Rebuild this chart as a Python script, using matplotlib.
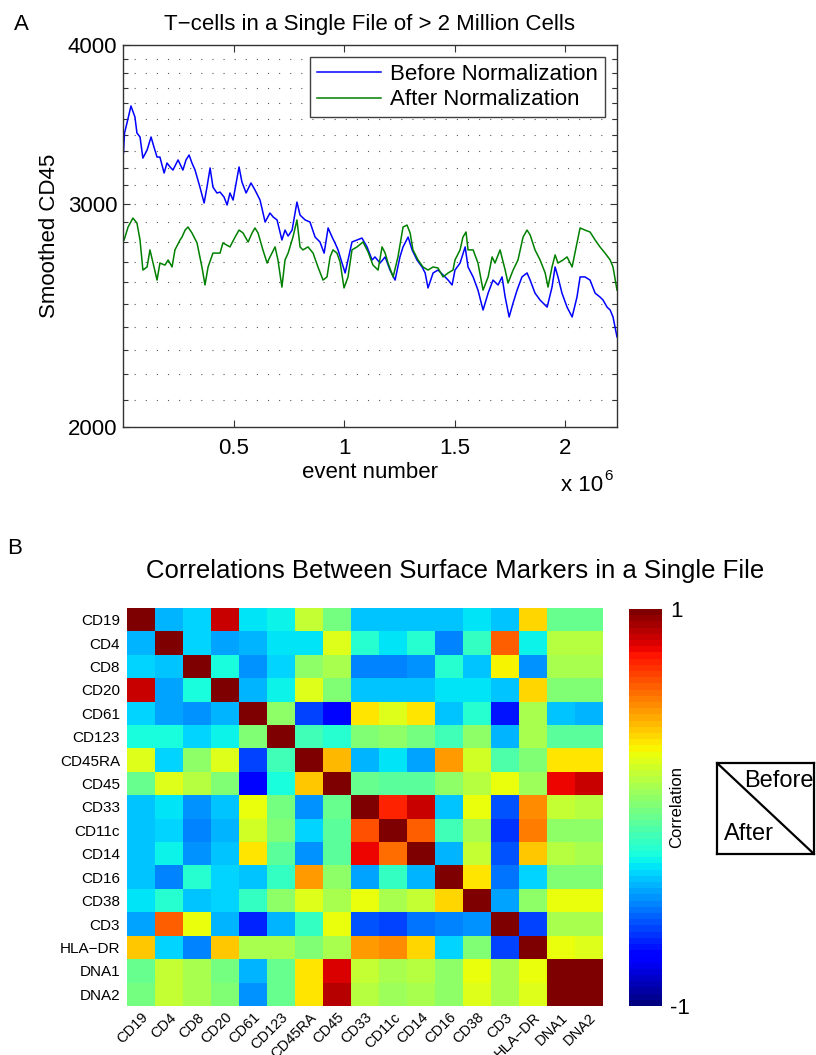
import matplotlib
matplotlib.use("Agg")
import matplotlib.pyplot as plt
import numpy as np
from matplotlib.ticker import FixedLocator, NullFormatter

plt.rcParams['font.family'] = ['Liberation Sans', 'DejaVu Sans']

# ---------------- Panel A data (event number in millions, smoothed CD45) -------------
before_events = [0.002,0.007,0.018,0.036,0.054,0.063,0.077,0.090,0.109,0.127,
                 0.140,0.154,0.167,0.186,0.199,0.213,0.226,0.249,0.271,0.285,
                 0.299,0.312,0.326,0.348,0.367,0.380,0.394,0.407,0.425,0.439,
                 0.457,0.471,0.484,0.498,0.525,0.538,0.557,0.579,0.597,0.620,
                 0.643,0.665,0.679,0.697,0.719,0.733,0.747,0.765,0.787,0.801,
                 0.824,0.846,0.869,0.891,0.910,0.928,0.946,0.959,0.973,0.991,
                 1.005,1.018,1.036,1.059,1.081,1.104,1.127,1.140,1.163,1.186,
                 1.208,1.231,1.253,1.267,1.290,1.308,1.330,1.353,1.367,1.380,
                 1.403,1.425,1.457,1.471,1.489,1.502,1.525,1.548,1.561,1.584,
                 1.606,1.629,1.652,1.674,1.697,1.715,1.729,1.747,1.765,1.783,
                 1.805,1.828,1.842,1.864,1.887,1.919,1.941,1.955,1.968,1.986,
                 2.009,2.032,2.054,2.068,2.090,2.113,2.136,2.158,2.172,2.190,
                 2.204,2.217,2.235]
before_cd45 = [3288,3410,3472,3581,3510,3410,3385,3258,3306,3385,
               3324,3264,3264,3171,3229,3206,3188,3247,3188,3247,
               3276,3229,3188,3091,3003,3091,3200,3091,3058,3063,
               3036,2992,3058,3019,3206,3120,3058,3114,3075,3019,
               2901,2949,2928,2912,2808,2859,2828,2859,3008,2938,
               2912,2901,2823,2798,2742,2870,2823,2793,2758,2693,
               2645,2708,2798,2808,2818,2773,2708,2723,2693,2723,
               2659,2611,2723,2773,2823,2758,2708,2674,2645,2574,
               2645,2659,2626,2611,2588,2659,2693,2773,2674,2626,
               2564,2473,2550,2611,2588,2626,2532,2442,2505,2564,
               2626,2645,2611,2550,2518,2486,2578,2674,2626,2550,
               2486,2442,2532,2626,2626,2611,2550,2532,2518,2486,
               2473,2442,2355]

after_events = [0.005,0.023,0.045,0.063,0.077,0.090,0.109,0.122,0.136,0.154,
                0.167,0.190,0.204,0.222,0.235,0.258,0.267,0.281,0.294,0.312,
                0.335,0.357,0.371,0.385,0.407,0.439,0.452,0.484,0.507,0.525,
                0.543,0.566,0.584,0.597,0.611,0.633,0.652,0.665,0.688,0.701,
                0.719,0.733,0.747,0.769,0.787,0.801,0.814,0.837,0.860,0.882,
                0.905,0.923,0.937,0.950,0.968,0.982,1.000,1.018,1.036,1.059,
                1.086,1.109,1.131,1.154,1.172,1.186,1.199,1.222,1.244,1.267,
                1.285,1.299,1.312,1.335,1.357,1.380,1.403,1.425,1.448,1.471,
                1.493,1.502,1.525,1.538,1.552,1.561,1.584,1.606,1.629,1.652,
                1.670,1.683,1.706,1.729,1.742,1.765,1.787,1.810,1.828,1.842,
                1.864,1.887,1.910,1.923,1.941,1.955,1.968,1.991,2.009,2.032,
                2.054,2.068,2.090,2.113,2.136,2.158,2.181,2.204,2.217,2.235]
after_cd45 = [2808,2875,2922,2896,2808,2659,2674,2758,2693,2611,
              2693,2683,2708,2674,2758,2808,2823,2859,2875,2844,
              2793,2674,2588,2674,2742,2742,2793,2773,2823,2859,
              2844,2798,2844,2870,2844,2758,2693,2723,2773,2708,
              2578,2708,2742,2823,2912,2773,2758,2773,2742,2674,
              2611,2626,2723,2758,2742,2698,2574,2626,2758,2773,
              2798,2747,2683,2659,2773,2742,2693,2626,2723,2875,
              2885,2844,2758,2708,2674,2659,2674,2669,2626,2645,
              2659,2708,2758,2823,2849,2758,2758,2693,2564,2626,
              2723,2693,2758,2659,2597,2659,2708,2823,2859,2834,
              2758,2708,2645,2578,2674,2733,2693,2708,2723,2674,
              2793,2870,2859,2849,2808,2773,2742,2708,2674,2564]

y_major = [2000, 3000, 4000]
y_major_labels = ['2000', '3000', '4000']
x_ticks = [0.5, 1, 1.5, 2]
x_tick_labels = ['0.5', '1', '1.5', '2']

# ---------------- Panel B data -------------
markers = ['CD19', 'CD4', 'CD8', 'CD20', 'CD61', 'CD123', 'CD45RA', 'CD45', 'CD33',
           'CD11c', 'CD14', 'CD16', 'CD38', 'CD3', 'HLA\u2212DR', 'DNA1', 'DNA2']
corr_CD19 = [1.00,-0.38,-0.32,0.85,-0.30,-0.27,0.17,-0.03,-0.35,-0.35,-0.35,-0.35,-0.30,-0.37,0.37,-0.05,-0.05]
corr_CD4 = [-0.40,1.00,-0.32,-0.42,-0.40,-0.30,-0.31,0.23,-0.20,-0.30,-0.20,-0.48,-0.18,0.60,-0.28,0.15,0.15]
corr_CD8 = [-0.32,-0.35,1.00,-0.22,-0.44,-0.33,0.05,0.12,-0.47,-0.47,-0.45,-0.20,-0.35,0.30,-0.45,0.12,0.12]
corr_CD20 = [0.85,-0.41,-0.25,1.00,-0.40,-0.27,0.23,0.02,-0.35,-0.37,-0.35,-0.31,-0.31,-0.35,0.37,0.00,0.00]
corr_CD61 = [-0.32,-0.42,-0.45,-0.40,1.00,0.05,-0.62,-0.75,0.32,0.23,0.32,-0.37,-0.20,-0.70,0.10,-0.37,-0.40]
corr_CD123 = [-0.25,-0.25,-0.32,-0.27,0.02,1.00,-0.15,-0.20,0.00,0.05,-0.02,-0.15,0.05,-0.40,0.10,-0.08,-0.08]
corr_CD45RA = [0.23,-0.32,0.05,0.23,-0.60,-0.15,1.00,0.42,-0.40,-0.30,-0.42,0.47,0.20,-0.12,0.02,0.32,0.32]
corr_CD45 = [-0.05,0.23,0.15,0.00,-0.75,-0.25,0.40,1.00,-0.05,-0.08,-0.08,0.05,0.15,0.28,0.07,0.80,0.85]
corr_CD33 = [-0.35,-0.30,-0.45,-0.35,0.25,-0.02,-0.45,-0.05,1.00,0.72,0.85,-0.37,0.25,-0.57,0.50,0.17,0.15]
corr_CD11c = [-0.35,-0.32,-0.47,-0.40,0.20,0.02,-0.33,-0.08,0.65,1.00,0.60,-0.15,0.12,-0.63,0.55,0.05,0.05]
corr_CD14 = [-0.35,-0.28,-0.45,-0.37,0.32,-0.08,-0.45,-0.08,0.80,0.57,1.00,-0.40,0.17,-0.57,0.40,0.15,0.10]
corr_CD16 = [-0.35,-0.47,-0.20,-0.32,-0.37,-0.18,0.47,0.05,-0.42,-0.18,-0.40,1.00,0.32,-0.52,-0.32,0.00,0.00]
corr_CD38 = [-0.30,-0.20,-0.35,-0.32,-0.18,0.05,0.23,0.12,0.25,0.12,0.17,0.35,1.00,-0.42,0.05,0.25,0.25]
corr_CD3 = [-0.42,0.62,0.28,-0.40,-0.68,-0.40,-0.18,0.28,-0.57,-0.62,-0.52,-0.50,-0.45,1.00,-0.62,0.10,0.12]
corr_HLADR = [0.38,-0.32,-0.47,0.38,0.10,0.10,0.02,0.10,0.47,0.52,0.35,-0.32,0.00,-0.62,1.00,0.25,0.23]
corr_DNA1 = [-0.05,0.17,0.12,-0.02,-0.40,-0.05,0.32,0.82,0.17,0.10,0.15,0.05,0.25,0.10,0.25,1.00,0.97]
corr_DNA2 = [-0.02,0.17,0.12,0.00,-0.45,-0.05,0.32,0.90,0.15,0.07,0.12,0.05,0.23,0.12,0.23,0.97,1.00]

corr = np.array([corr_CD19, corr_CD4, corr_CD8, corr_CD20, corr_CD61, corr_CD123,
                 corr_CD45RA, corr_CD45, corr_CD33, corr_CD11c, corr_CD14, corr_CD16,
                 corr_CD38, corr_CD3, corr_HLADR, corr_DNA1, corr_DNA2])

W, H = 816, 1055
fig = plt.figure(figsize=(W / 100, H / 100), dpi=100)
fig.patch.set_facecolor('white')

def fx(px):
    return px / W

def fy(py):
    return 1 - py / H

# ---------------- Panel A -------------
axA = fig.add_axes([fx(123), fy(427), fx(617) - fx(123), fy(45) - fy(427)])
axA.plot(before_events, before_cd45, color=(0, 0, 1), lw=1.1, label='Before Normalization')
axA.plot(after_events, after_cd45, color=(0, 0.5, 0), lw=1.1, label='After Normalization')
axA.set_yscale('log')
axA.set_ylim(2000, 4000)
axA.set_xlim(0.0, 2.235)
axA.yaxis.set_major_locator(FixedLocator(y_major))
axA.set_yticklabels(y_major_labels)
axA.yaxis.set_minor_locator(FixedLocator(list(range(2100, 4000, 100))))
axA.yaxis.set_minor_formatter(NullFormatter())
axA.set_xticks(x_ticks)
axA.set_xticklabels(x_tick_labels)
axA.xaxis.set_minor_locator(FixedLocator([]))
axA.yaxis.grid(True, which='both', linestyle=(0, (1, 9)), color='0.35', lw=0.8)
axA.tick_params(axis='both', which='major', direction='in', length=5, width=0.8,
                top=True, right=True, labelsize=16, color='0.2')
axA.tick_params(axis='y', which='minor', direction='in', length=3.5, width=0.8,
                left=True, right=True, color='0.2')
axA.tick_params(axis='x', which='major', pad=8)
axA.tick_params(axis='y', which='major', pad=4)
for s in axA.spines.values():
    s.set_linewidth(1.0)
    s.set_color('0.2')
axA.set_title('T\u2212cells in a Single File of > 2 Million Cells', fontsize=16, pad=11)
axA.set_ylabel('Smoothed CD45', fontsize=16, labelpad=6)
axA.set_xlabel('event number', fontsize=16, labelpad=2)
leg = axA.legend(loc='upper right', fontsize=16, handlelength=2.9, frameon=True,
                 fancybox=False, borderpad=0.3, labelspacing=0.2, handletextpad=0.4,
                 borderaxespad=0.55)
leg.get_frame().set_edgecolor('0.25')
leg.get_frame().set_linewidth(1.0)
leg.get_frame().set_alpha(1)
fig.text(fx(603), fy(491), 'x 10', fontsize=16, ha='right', va='baseline')
fig.text(fx(604), fy(480), '6', fontsize=11, ha='left', va='baseline')

fig.text(fx(21), fy(24), 'A', fontsize=16, ha='center', va='center')
fig.text(fx(15), fy(548), 'B', fontsize=16, ha='center', va='center')

# ---------------- Panel B -------------
fig.text(fx(455), fy(571), 'Correlations Between Surface Markers in a Single File',
         fontsize=18.5, ha='center', va='center')
axB = fig.add_axes([fx(127), fy(1006), fx(603) - fx(127), fy(608) - fy(1006)])
cmap = plt.get_cmap('jet', 64)
im = axB.imshow(corr, cmap=cmap, vmin=-1, vmax=1, aspect='auto', interpolation='nearest')
n = len(markers)
axB.set_xticks(range(n))
axB.set_yticks(range(n))
axB.set_yticklabels(markers, fontsize=11)
axB.set_xticklabels(markers, fontsize=10.5, rotation=45, ha='right', va='top',
                    rotation_mode='anchor')
axB.tick_params(axis='y', length=0, pad=5)
axB.tick_params(axis='x', length=0, pad=3)
for s in axB.spines.values():
    s.set_visible(False)

cax = fig.add_axes([fx(629), fy(1006), fx(662) - fx(629), fy(609) - fy(1006)])
cb = fig.colorbar(im, cax=cax)
cb.set_ticks([-1, 1])
cb.set_ticklabels(['-1', '1'])
cb.ax.tick_params(length=0, labelsize=16, pad=6)
cb.outline.set_visible(False)
cax.text(1.45, 0.5, 'Correlation', rotation=90, ha='center', va='center',
         fontsize=12, transform=cax.transAxes)

# small Before/After key
axK = fig.add_axes([fx(717), fy(854), fx(814) - fx(717), fy(763) - fy(854)])
axK.set_xlim(0, 1)
axK.set_ylim(0, 1)
axK.plot([0, 1], [1, 0], color='black', lw=1.6)
axK.set_xticks([])
axK.set_yticks([])
for s in axK.spines.values():
    s.set_linewidth(1.6)
    s.set_color('black')
axK.text(1.0, 0.80, 'Before', fontsize=17, ha='right', va='center')
axK.text(0.07, 0.22, 'After', fontsize=17, ha='left', va='center')

fig.savefig('out.png', dpi=100, facecolor='white')
